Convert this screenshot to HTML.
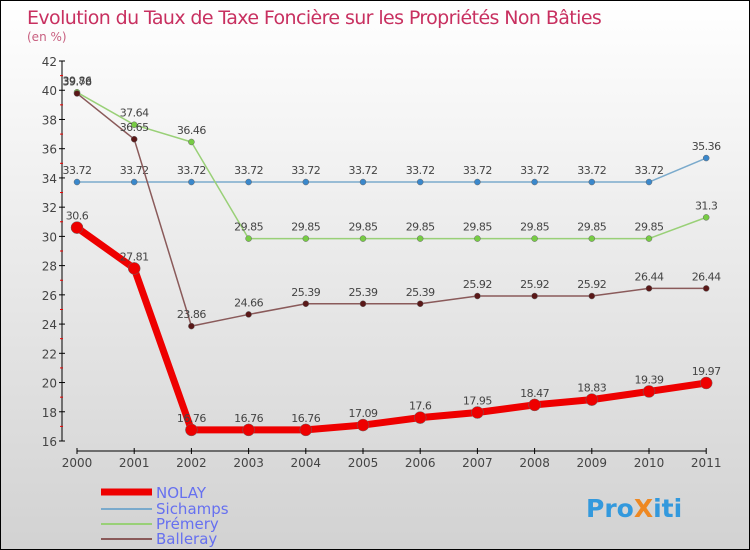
<!DOCTYPE html>
<html><head><meta charset="utf-8"><style>
body{margin:0}
#c{width:748px;height:548px;border:1px solid #000;position:relative;background:linear-gradient(#fff,#d2d2d2);font-family:"DejaVu Sans","Liberation Sans",sans-serif;overflow:hidden}
</style></head><body>
<div id="c">
<svg id="s" width="748" height="548" style="position:absolute;left:0;top:0" font-family="DejaVu Sans, Liberation Sans, sans-serif">
<text x="26" y="23" font-size="19" fill="#c83060" letter-spacing="-0.6">Evolution du Taux de Taxe Foncière sur les Propriétés Non Bâties</text>
<text x="26" y="40" font-size="12" fill="#c86080">(en %)</text>
<g id="axes"></g><g id="series"></g>
<g>
<line x1="100" y1="491" x2="151" y2="491" stroke="#e00" stroke-width="7"/>
<text x="155" y="497" font-size="15" fill="#6670f0">NOLAY</text>
<line x1="100" y1="508" x2="151" y2="508" stroke="#7aaacc" stroke-width="2"/>
<text x="155" y="513" font-size="15" fill="#6670f0">Sichamps</text>
<line x1="100" y1="523" x2="151" y2="523" stroke="#99d077" stroke-width="2"/>
<text x="155" y="528" font-size="15" fill="#6670f0">Prémery</text>
<line x1="100" y1="538" x2="151" y2="538" stroke="#8a5a5a" stroke-width="2"/>
<text x="155" y="543" font-size="15" fill="#6670f0">Balleray</text>
</g>
<text x="585" y="516" font-size="25" font-weight="bold" fill="#3399dd">Pro<tspan fill="#ee8822">X</tspan>iti</text>
</svg></div>
<script>
const years=[2000,2001,2002,2003,2004,2005,2006,2007,2008,2009,2010,2011];
const yTicks=[16,18,20,22,24,26,28,30,32,34,36,38,40,42];
const nolay=[30.6,27.81,16.76,16.76,16.76,17.09,17.6,17.95,18.47,18.83,19.39,19.97];
const sichamps=[33.72,33.72,33.72,33.72,33.72,33.72,33.72,33.72,33.72,33.72,33.72,35.36];
const premery=[39.86,37.64,36.46,29.85,29.85,29.85,29.85,29.85,29.85,29.85,29.85,31.3];
const balleray=[39.78,36.65,23.86,24.66,25.39,25.39,25.39,25.92,25.92,25.92,26.44,26.44];
const NS="http://www.w3.org/2000/svg";
const X=i=>76+i*57.2, Y=v=>440-(v-16)*14.615;
function mk(t,a,p){const e=document.createElementNS(NS,t);for(const k in a)e.setAttribute(k,a[k]);p.appendChild(e);return e;}
const ax=document.getElementById('axes'), sg=document.getElementById('series');
let e=mk('line',{x1:61,y1:60,x2:61,y2:440,stroke:'#000'},ax);

e=mk('line',{x1:76,y1:450,x2:705,y2:450,stroke:'#000'},ax);

yTicks.forEach((v,i)=>{mk('line',{x1:58,x2:64,y1:Y(v),y2:Y(v),stroke:'#000'},ax);
 if(i<yTicks.length-1)mk('line',{x1:59,x2:62,y1:Y(v+1),y2:Y(v+1),stroke:'#e00'},ax);
 const t=mk('text',{x:56,y:Y(v)+5,'font-size':12,fill:'#444','text-anchor':'end'},ax);t.textContent=v;
 });
years.forEach((y,i)=>{mk('line',{x1:X(i),x2:X(i),y1:447,y2:453,stroke:'#000'},ax);
 const t=mk('text',{x:X(i),y:466,'font-size':12,fill:'#444','text-anchor':'middle'},ax);t.textContent=y;
 });
function series(d,col,w,r,name){
 const p=mk('polyline',{points:d.map((v,i)=>X(i)+','+Y(v)).join(' '),fill:'none',stroke:col,'stroke-width':w,'stroke-linejoin':'round'},sg);
 
 d.forEach((v,i)=>{const c=mk('circle',{cx:X(i),cy:Y(v),r:r,fill:col==='#e00'?'#e00':(name==='sichamps'?'#3a88cc':name==='premery'?'#77cc44':'#5a1818'),stroke:'#666','stroke-width':0.5},sg);
  
  const t=mk('text',{x:X(i),y:Y(v)-8,'font-size':11,fill:'#444','text-anchor':'middle','letter-spacing':'-0.5'},sg);t.textContent=v;
  });
}
series(sichamps,'#7aaacc',1.5,3,'sichamps');
series(premery,'#99d077',1.5,3,'premery');
series(balleray,'#8a5a5a',1.5,3,'balleray');
series(nolay,'#e00',7,6,'nolay');
</script>
</body></html>
